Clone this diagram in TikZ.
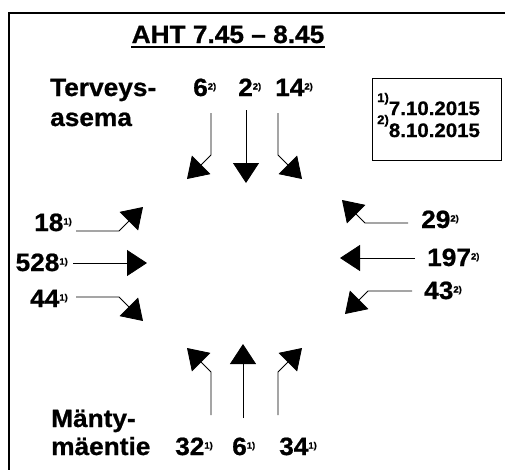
\documentclass[tikz,border=0pt]{standalone}
\usepackage{fontspec}
\setmainfont{Liberation Sans}[FakeStretch=1.05, BoldFeatures={FakeBold=0.8}]
\usetikzlibrary{arrows.meta}
\newcommand\sq[1]{\raisebox{6.5pt}{\fontsize{9}{10}\selectfont #1)}}
\newcommand\lsq[1]{\raisebox{13pt}{\fontsize{12.5}{14}\selectfont #1)}}
\begin{document}
\begin{tikzpicture}[x=1pt,y=-1pt,
  lbl/.style={font=\fontsize{25}{28}\selectfont\bfseries, inner sep=0pt, anchor=base west},
  legtxt/.style={font=\fontsize{19.5}{22}\selectfont\bfseries, inner sep=0pt, anchor=base west},
  flow/.style={line width=0.8pt, -{Triangle[length=20pt,width=26pt]}},
  frame/.style={line width=1.6pt}]
\useasboundingbox (0,0) rectangle (505,469);
\draw[frame] (9,470) -- (9,13) -- (506,13);
% title
\node[lbl, anchor=base] (title) at (228,43) {AHT 7.45 – 8.45};
\draw[line width=1.8pt] ([yshift=-4pt]title.base west) -- ([yshift=-4pt]title.base east);
% street names
\node[lbl] (tv) at (50,96) {Terveys-};
\node[lbl] (as) at (50,126) {asema};
\node[lbl] (mt) at (51,427) {Mänty-};
\node[lbl] (me) at (51,455) {mäentie};
% numbers
\node[lbl] (n6t) at (193,96) {6\sq2};
\node[lbl] (n2t) at (238,96) {2\sq2};
\node[lbl] (n14t) at (275,96) {14\sq2};
\node[lbl, anchor=base east] (n18) at (72,231) {18\sq1};
\node[lbl, anchor=base east] (n528) at (68,271) {528\sq1};
\node[lbl, anchor=base east] (n44) at (68,307) {44\sq1};
\node[lbl] (n29) at (421,228) {29\sq2};
\node[lbl] (n197) at (427,266) {197\sq2};
\node[lbl] (n43) at (424,299) {43\sq2};
\node[lbl] (n32) at (175,455) {32\sq1};
\node[lbl] (n6b) at (232,455) {6\sq1};
\node[lbl] (n34) at (279,455) {34\sq1};
% legend
\node[draw, line width=1.2pt, inner sep=0pt, minimum width=129pt, minimum height=82pt, anchor=north west] (leg) at (372,78) {};
\node[legtxt] (l1) at (377,115) {\lsq{1}7.10.2015};
\node[legtxt] (l2) at (377,137) {\lsq{2}8.10.2015};
% arrows top
\coordinate (a1s) at (211,113); \coordinate (a1b) at (211,155); \coordinate (a1t) at (187,179);
\coordinate (a2s) at (246,110); \coordinate (a2t) at (246,183);
\coordinate (a3s) at (278,113); \coordinate (a3b) at (278,155); \coordinate (a3t) at (302,179);
\draw[flow] (a1s) -- (a1b) -- (a1t);
\draw[flow] (a2s) -- (a2t);
\draw[flow] (a3s) -- (a3b) -- (a3t);
% arrows left
\coordinate (b1s) at (76,231); \coordinate (b1b) at (119,231); \coordinate (b1t) at (143,207);
\coordinate (b2s) at (73,263); \coordinate (b2t) at (147,263);
\coordinate (b3s) at (76,297); \coordinate (b3b) at (119,297); \coordinate (b3t) at (143,321);
\draw[flow] (b1s) -- (b1b) -- (b1t);
\draw[flow] (b2s) -- (b2t);
\draw[flow] (b3s) -- (b3b) -- (b3t);
% arrows right
\coordinate (c1s) at (408,223); \coordinate (c1b) at (365,223); \coordinate (c1t) at (342,200);
\coordinate (c2s) at (415,258); \coordinate (c2t) at (340,258);
\coordinate (c3s) at (412,291); \coordinate (c3b) at (368,291); \coordinate (c3t) at (345,314);
\draw[flow] (c1s) -- (c1b) -- (c1t);
\draw[flow] (c2s) -- (c2t);
\draw[flow] (c3s) -- (c3b) -- (c3t);
% arrows bottom
\coordinate (d1s) at (211,415); \coordinate (d1b) at (211,372); \coordinate (d1t) at (187,348);
\coordinate (d2s) at (243,418); \coordinate (d2t) at (243,344);
\coordinate (d3s) at (278,415); \coordinate (d3b) at (278,372); \coordinate (d3t) at (302,348);
\draw[flow] (d1s) -- (d1b) -- (d1t);
\draw[flow] (d2s) -- (d2t);
\draw[flow] (d3s) -- (d3b) -- (d3t);
\end{tikzpicture}
\end{document}
